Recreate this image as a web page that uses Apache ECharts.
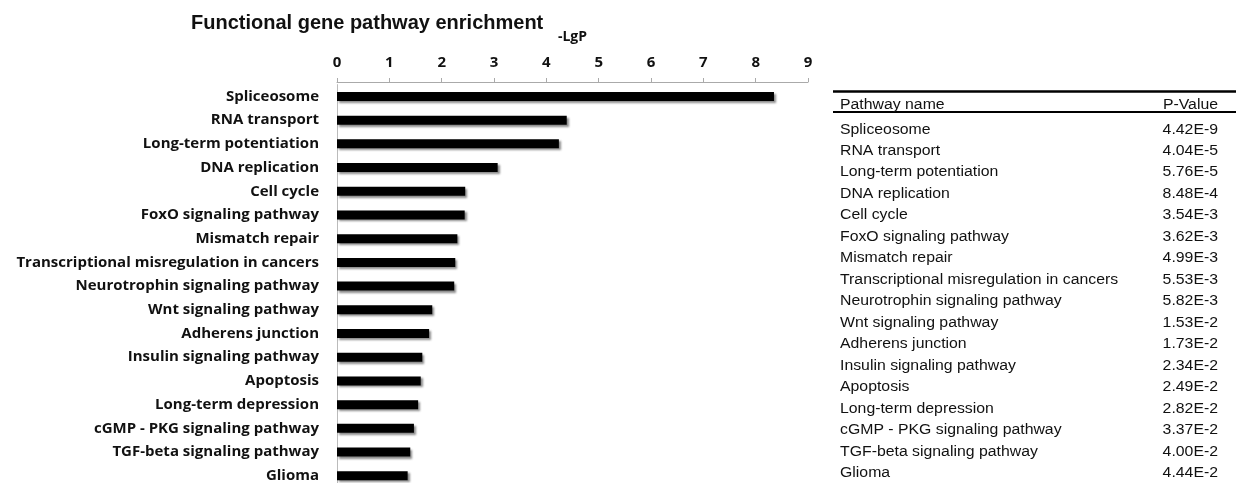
<!DOCTYPE html>
<html>
<head>
<meta charset="utf-8">
<script src="https://cdn.jsdelivr.net/npm/echarts@6/dist/echarts.min.js"></script>
<style>html,body{margin:0;padding:0;background:#fff;overflow:hidden}#c{width:1236px;height:500px}</style>
</head>
<body>
<div id="c"></div>
<script>
const categories = ["Spliceosome","RNA transport","Long-term potentiation","DNA replication","Cell cycle","FoxO signaling pathway","Mismatch repair","Transcriptional misregulation in cancers","Neurotrophin signaling pathway","Wnt signaling pathway","Adherens junction","Insulin signaling pathway","Apoptosis","Long-term depression","cGMP - PKG signaling pathway","TGF-beta signaling pathway","Glioma"];
const lgpValues = [8.35, 4.39, 4.24, 3.07, 2.45, 2.44, 2.30, 2.26, 2.24, 1.82, 1.76, 1.63, 1.60, 1.55, 1.47, 1.40, 1.35];
const pValueLabels = ["4.42E-9","4.04E-5","5.76E-5","8.48E-4","3.54E-3","3.62E-3","4.99E-3","5.53E-3","5.82E-3","1.53E-2","1.73E-2","2.34E-2","2.49E-2","2.82E-2","3.37E-2","4.00E-2","4.44E-2"];
const xTicks = [0,1,2,3,4,5,6,7,8,9];
const tableHeaders = ["Pathway name","P-Value"];

const chart = echarts.init(document.getElementById('c'));
const sansCal = '"Open Sans", Lato, sans-serif';
const arial = '"Liberation Sans", Arial, sans-serif';

const graphics = [];
const tX0 = 833, tX1 = 1236, tName = 840, tVal = 1218;
const sx = 1.13;
graphics.push({type:'line', shape:{x1:tX0,y1:91.5,x2:tX1,y2:91.5}, style:{stroke:'#000',lineWidth:2.5}});
graphics.push({type:'line', shape:{x1:tX0,y1:112,x2:tX1,y2:112}, style:{stroke:'#000',lineWidth:2}});
graphics.push({type:'text', x:tName, y:105, scaleX:sx, style:{text:tableHeaders[0], font:'14px '+arial, fill:'#111', textAlign:'left', textVerticalAlign:'middle'}});
graphics.push({type:'text', x:tVal, y:105, scaleX:sx, style:{text:tableHeaders[1], font:'14px '+arial, fill:'#111', textAlign:'right', textVerticalAlign:'middle'}});
categories.forEach((name, i) => {
  const y = 129.7 + i * 21.47;
  graphics.push({type:'text', x:tName, y:y, scaleX:sx, style:{text:name, font:'14px '+arial, fill:'#111', textAlign:'left', textVerticalAlign:'middle'}});
  graphics.push({type:'text', x:tVal, y:y, scaleX:sx, style:{text:pValueLabels[i], font:'14px '+arial, fill:'#111', textAlign:'right', textVerticalAlign:'middle'}});
});

chart.setOption({
  animation:false,
  backgroundColor:'#fff',
  title:{text:'Functional gene pathway enrichment', left:186, top:8,
    textStyle:{fontFamily:arial, fontWeight:'bold', fontSize:20, color:'#111'}},
  grid:{left:337, top:84.6, width:471, height:403, containLabel:false},
  xAxis:{type:'value', position:'top', min:0, max:9, interval:1, offset:2.6,
    name:'-LgP', nameLocation:'middle', nameGap:38,
    nameTextStyle:{fontFamily:sansCal, fontWeight:'bold', fontSize:14, color:'#111'},
    axisLine:{show:true, lineStyle:{color:'#aaa', width:1}},
    axisTick:{show:true, length:4, lineStyle:{color:'#aaa'}},
    axisLabel:{fontFamily:sansCal, fontWeight:'bold', fontSize:15, color:'#111', margin:12,
      formatter:v => String(xTicks[v])},
    splitLine:{show:false}},
  yAxis:{type:'category', data:categories, inverse:true,
    axisLine:{show:true, lineStyle:{color:'#bbb', width:1}},
    axisTick:{show:false},
    axisLabel:{fontFamily:sansCal, fontWeight:'bold', fontSize:15, color:'#111', margin:18}},
  series:[{type:'bar', data:lgpValues, barWidth:9,
    itemStyle:{color:'#000', shadowColor:'rgba(0,0,0,0.45)', shadowBlur:2, shadowOffsetX:2, shadowOffsetY:2}}],
  graphic:graphics
});
</script>
</body>
</html>
